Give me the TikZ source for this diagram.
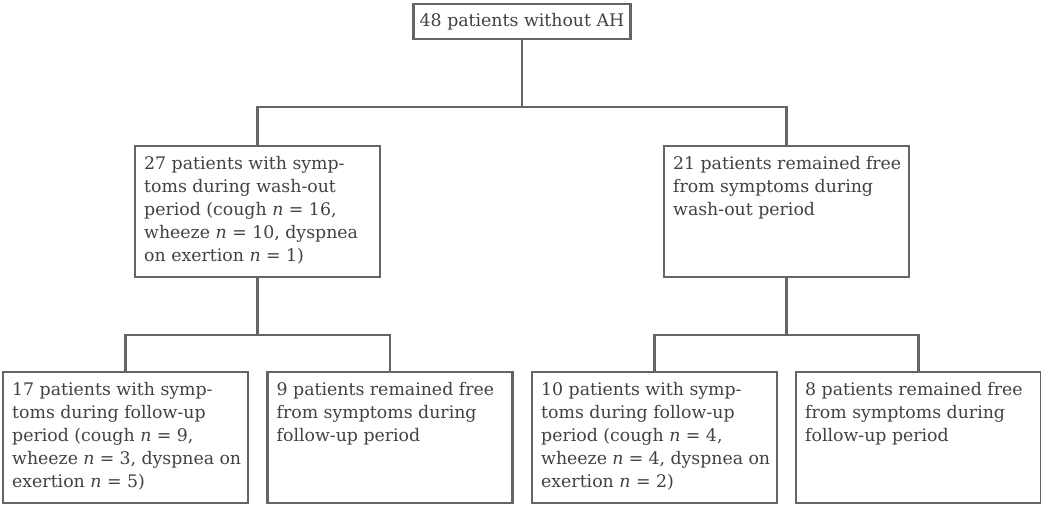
\documentclass[tikz,border=0pt]{standalone}
\usepackage{fontspec}
\setmainfont{DejaVu Serif}
\usetikzlibrary{positioning, calc}
\definecolor{FlowLine}{RGB}{100, 100, 106}
\definecolor{FlowText}{RGB}{66, 66, 70}
\newcommand{\boxtext}[1]{\parbox[c][3.33cm][t]{6.8cm}{\rightskip=0pt plus 1fil minus 0.6cm #1}}
\newcommand{\nn}{\textit{n}}

\begin{document}
\begin{tikzpicture}[
  every node/.style={font=\fontsize{14.8}{19.6}\selectfont, text=FlowText},
  headbox/.style={draw=FlowLine, line width=2pt, fill=white, inner sep=0pt,
                  minimum width=6.51cm, minimum height=1.05cm},
  groupbox/.style={draw=FlowLine, line width=2pt, fill=white, inner sep=0pt,
                   minimum width=7.35cm, minimum height=3.93cm},
  link/.style={draw=FlowLine, line width=2pt}
]
  \useasboundingbox (0,0) rectangle (31.23,15.15);

  %% Nodes
  \node[headbox]  (all)      at (15.66,14.505) {48 patients without AH};
  \node[groupbox] (sympwash) at (7.725, 8.805) {\boxtext{27 patients with symp-\\toms during wash-out\\period (cough \nn{} = 16,\\wheeze \nn{} = 10, dyspnea\\on exertion \nn{} = 1)}};
  \node[groupbox] (freewash) at (23.595,8.805) {\boxtext{21 patients remained free\\from symptoms during\\wash-out period}};
  \node[groupbox] (sympfolA) at (3.765, 2.025) {\boxtext{17 patients with symp-\\toms during follow-up\\period (cough \nn{} = 9,\\wheeze \nn{} = 3, dyspnea on\\exertion \nn{} = 5)}};
  \node[groupbox] (freefolA) at (11.7,  2.025) {\boxtext{9 patients remained free\\from symptoms during\\follow-up period}};
  \node[groupbox] (sympfolB) at (19.635,2.025) {\boxtext{10 patients with symp-\\toms during follow-up\\period (cough \nn{} = 4,\\wheeze \nn{} = 4, dyspnea on\\exertion \nn{} = 2)}};
  \node[groupbox] (freefolB) at (27.555,2.025) {\boxtext{8 patients remained free\\from symptoms during\\follow-up period}};

  %% Forks
  \coordinate (forkall)  at (15.66,11.94);
  \coordinate (forksymp) at (7.725, 5.1);
  \coordinate (forkfree) at (23.595,5.1);

  %% Connectors
  \draw[link] (all.south)      -- (forkall);
  \draw[link] (forkall)        -| (sympwash.north);
  \draw[link] (forkall)        -| (freewash.north);
  \draw[link] (sympwash.south) -- (forksymp);
  \draw[link] (forksymp)       -| (sympfolA.north);
  \draw[link] (forksymp)       -| (freefolA.north);
  \draw[link] (freewash.south) -- (forkfree);
  \draw[link] (forkfree)       -| (sympfolB.north);
  \draw[link] (forkfree)       -| (freefolB.north);
\end{tikzpicture}
\end{document}
